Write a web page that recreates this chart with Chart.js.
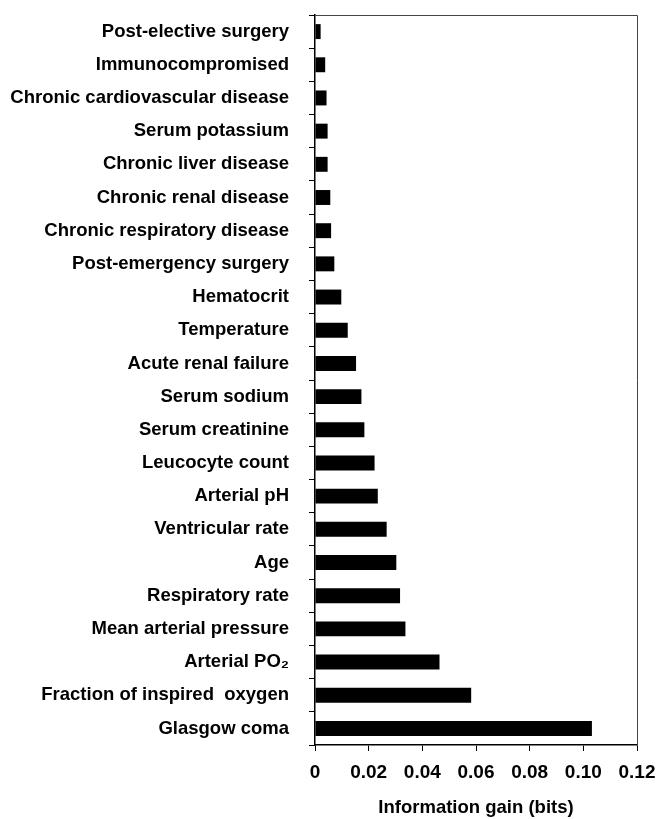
<!DOCTYPE html>
<html>
<head>
<meta charset="utf-8">
<script src="https://cdn.jsdelivr.net/npm/chart.js@4.4.1/dist/chart.umd.min.js"></script>
<style>
  html, body { margin: 0; padding: 0; background: #fff; }
  #wrap { width: 658px; height: 819px; position: relative; }
</style>
</head>
<body>
<div id="wrap"><canvas id="c"></canvas></div>
<script>
// Predictor variables, listed top to bottom
const categories = [
  "Post-elective surgery",
  "Immunocompromised",
  "Chronic cardiovascular disease",
  "Serum potassium",
  "Chronic liver disease",
  "Chronic renal disease",
  "Chronic respiratory disease",
  "Post-emergency surgery",
  "Hematocrit",
  "Temperature",
  "Acute renal failure",
  "Serum sodium",
  "Serum creatinine",
  "Leucocyte count",
  "Arterial pH",
  "Ventricular rate",
  "Age",
  "Respiratory rate",
  "Mean arterial pressure",
  "Arterial PO\u2082",
  "Fraction of inspired  oxygen",
  "Glasgow coma"
];

// Information gain per variable (bits)
const infoGain = [
  0.0021, 0.0038, 0.0043, 0.0047, 0.0047, 0.0057, 0.0060, 0.0072,
  0.0098, 0.0122, 0.0153, 0.0173, 0.0184, 0.0222, 0.0234, 0.0267,
  0.0303, 0.0317, 0.0337, 0.0464, 0.0582, 0.1032
];

const xTickValues = [0, 0.02, 0.04, 0.06, 0.08, 0.10, 0.12];
const xTickLabels = ["0", "0.02", "0.04", "0.06", "0.08", "0.10", "0.12"];
const xTitle = "Information gain (bits)";

const FONT = "'Liberation Sans', Arial, Helvetica, sans-serif";

// Frame around the plotting area
const frame = {
  id: 'frame',
  afterDatasetsDraw(chart) {
    const a = chart.chartArea, ctx = chart.ctx;
    ctx.save();
    ctx.strokeStyle = '#444';
    ctx.lineWidth = 1;
    ctx.beginPath();
    ctx.moveTo(a.left, a.top + 0.5);
    ctx.lineTo(a.right + 0.5, a.top + 0.5);
    ctx.lineTo(a.right + 0.5, a.bottom);
    ctx.stroke();
    ctx.restore();
  }
};

new Chart(document.getElementById('c'), {
  type: 'bar',
  data: {
    labels: categories,
    datasets: [{
      data: infoGain,
      backgroundColor: '#000',
      borderWidth: 0,
      barPercentage: 0.45,
      categoryPercentage: 1.0
    }]
  },
  options: {
    indexAxis: 'y',
    responsive: true,
    maintainAspectRatio: false,
    animation: false,
    layout: { padding: { top: 15, right: 21, left: 0, bottom: 0 } },
    plugins: {
      legend: { display: false },
      tooltip: { enabled: false }
    },
    scales: {
      x: {
        type: 'linear',
        min: 0,
        max: 0.12,
        afterBuildTicks(scale) {
          scale.ticks = xTickValues.map(v => ({ value: v }));
        },
        afterFit(scale) {
          scale.height = 74;
          scale.paddingLeft = 0;
          scale.paddingRight = 0;
        },
        grid: {
          drawOnChartArea: false,
          drawTicks: true,
          tickLength: 6,
          color: '#000'
        },
        border: { display: true, color: '#000', width: 1.5 },
        ticks: {
          color: '#000',
          padding: 10,
          maxRotation: 0,
          font: { family: FONT, size: 19, weight: 'bold' },
          callback(value) {
            const i = xTickValues.findIndex(v => Math.abs(v - value) < 1e-9);
            return i >= 0 ? xTickLabels[i] : '';
          }
        },
        title: {
          display: true,
          text: xTitle,
          color: '#000',
          padding: { top: 10, bottom: 0 },
          font: { family: FONT, size: 18.5, weight: 'bold' }
        }
      },
      y: {
        type: 'category',
        offset: true,
        afterFit(scale) {
          scale.width = 315;
          scale.paddingTop = 0;
          scale.paddingBottom = 0;
        },
        grid: {
          offset: true,
          drawOnChartArea: false,
          drawTicks: true,
          tickLength: 6,
          color: '#000'
        },
        border: { display: true, color: '#000', width: 1.5 },
        ticks: {
          color: '#000',
          padding: 20,
          autoSkip: false,
          font: { family: FONT, size: 18.5, weight: 'bold' }
        }
      }
    }
  },
  plugins: [frame]
});
</script>
</body>
</html>
